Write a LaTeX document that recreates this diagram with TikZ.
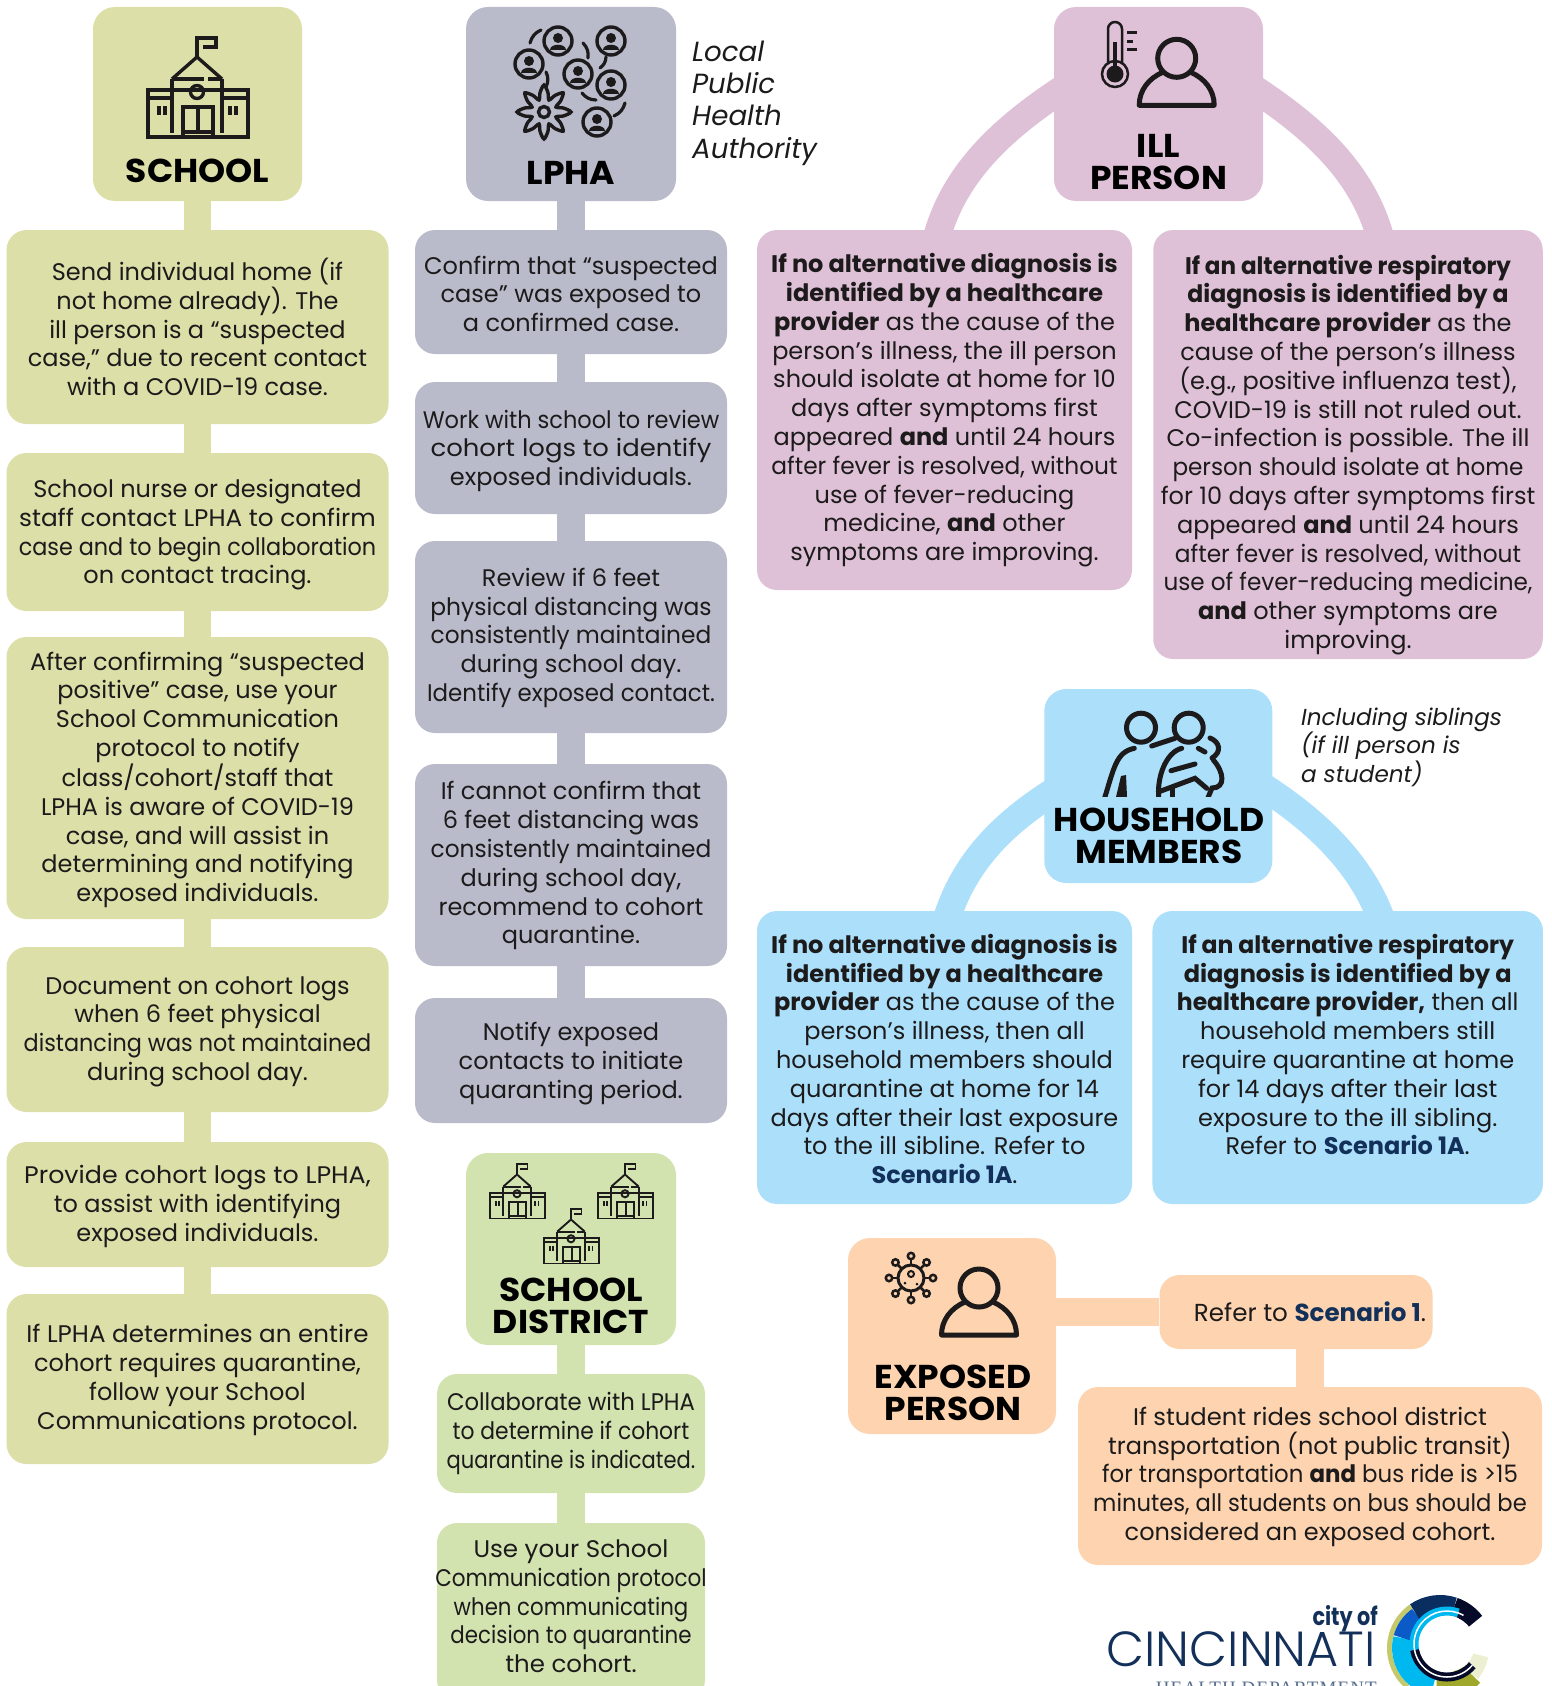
\documentclass[tikz,border=0pt]{standalone}
\usepackage{fontspec}
\usepackage{graphicx}
\setmainfont{Poppins}
\newfontfamily\logofont{Poppins Light}
\newfontfamily\deptfont[LetterSpace=6]{Liberation Serif}
\newfontfamily\headfont[FakeStretch=1.045]{Poppins}
\usetikzlibrary{calc}

\definecolor{schoolc}{HTML}{DDDFA8}
\definecolor{lphac}{HTML}{B9BBCA}
\definecolor{illc}{HTML}{DEC1D7}
\definecolor{housec}{HTML}{ABDFFA}
\definecolor{expoc}{HTML}{FDD4AF}
\definecolor{distc}{HTML}{D2E3B0}
\definecolor{navyc}{HTML}{12305A}
\definecolor{inkc}{HTML}{1C1A1B}
\definecolor{ringa}{HTML}{050A28}
\definecolor{ringb}{HTML}{0A2E60}
\definecolor{ringc}{HTML}{0A5AC8}
\definecolor{ringd}{HTML}{00B8F0}
\definecolor{ringe}{HTML}{9FA82A}
\definecolor{ringf}{HTML}{C4C96C}
\definecolor{ringg}{HTML}{EDEFD2}

\newcommand{\scen}[1]{\textcolor{navyc}{\textbf{#1}}}
\newcommand{\sx}[2]{\scalebox{#1}[1]{#2}}

\tikzset{
	flowbox/.style={rounded corners=20pt, align=center, inner sep=0pt, text=inkc, font=\fontsize{24}{28.8}\selectfont},
	headbox/.style={rounded corners=22pt, inner sep=0pt},
	headtxt/.style={align=center, inner sep=0pt, text=black, font=\headfont\fontsize{33}{32.5}\selectfont\bfseries},
	sidetxt/.style={align=left, anchor=west, inner sep=0pt, text=inkc},
	link/.style={line width=27.5pt},
	schoolpic/.pic={
		\draw (0,-30) -- (0,-49) -- (19,-49) -- (19,-40) -- (6,-40);
		\draw (-25,-8) -- (0,-30) -- (25,-8);
		\draw (-25,-8) -- (7,-8) (11,-8) -- (25,-8);
		\draw (-25,-8) -- (-25,46) (25,-8) -- (25,46);
		\draw (-49,3) rectangle (51,50);
		\draw (-49,11) -- (-25,11) (25,11) -- (51,11);
		\draw (-14,20) rectangle (16,50);
		\draw (1,20) -- (1,45) (-14,45) -- (16,45);
		\draw (0,5) circle (6.5);
		\draw (-38,19) -- (-38,28) (-32,19) -- (-32,28) (33,19) -- (33,28) (39,19) -- (39,28);
	},
	personpic/.pic={
		\draw (0,0) circle (19);
		\draw[line join=round] (-14,14) .. controls (-28,20) and (-37.5,32) .. (-37.5,47) -- (37.5,47) .. controls (37.5,32) and (28,20) .. (14,14);
	},
	facepic/.pic={
		\draw (0,0) circle (14);
		\fill[inkc] (0,-3) circle (5);
		\fill[inkc] (-8,9) .. controls (-8,2) and (8,2) .. (8,9) -- cycle;
	},
}

\begin{document}
\begin{tikzpicture}[x=1pt,y=-1pt]
	\useasboundingbox (0,0) rectangle (1552,1686);

	%%%%% SCHOOL %%%%%
	\node[headbox, fill=schoolc, minimum width=209, minimum height=194] (school) at (197.5,104) {};
	\node[flowbox, fill=schoolc, minimum width=382, minimum height=194] (s1) at (197.5,327) {Send individual home (if\\not home already). The\\ill person is a “suspected\\case,” due to recent contact\\with a COVID-19 case.};
	\node[flowbox, fill=schoolc, minimum width=382, minimum height=158] (s2) at (197.5,532) {\rule{0pt}{24pt}School nurse or designated\\\sx{1.03}{staff contact LPHA to confirm}\\\sx{.93}{case and to begin collaboration}\\on contact tracing.};
	\node[flowbox, fill=schoolc, minimum width=382, minimum height=282] (s3) at (197.5,778) {\rule{0pt}{22pt}After confirming “suspected\\positive” case, use your\\School Communication\\protocol to notify\\class/cohort/staff that\\LPHA is aware of COVID-19\\case, and will assist in\\determining and notifying\\exposed individuals.};
	\node[flowbox, fill=schoolc, minimum width=382, minimum height=165] (s4) at (197.5,1029.5) {\rule{0pt}{22pt}Document on cohort logs\\when 6 feet physical\\\sx{.93}{distancing was not maintained}\\during school day.};
	\node[flowbox, fill=schoolc, minimum width=382, minimum height=125] (s5) at (197.5,1204.5) {\rule{0pt}{22pt}\sx{1.055}{Provide cohort logs to LPHA,}\\to assist with identifying\\exposed individuals.};
	\node[flowbox, fill=schoolc, minimum width=382, minimum height=170] (s6) at (197.5,1379) {\rule{0pt}{20pt}\sx{1.025}{If LPHA determines an entire}\\cohort requires quarantine,\\follow your School\\Communications protocol.};
	\foreach \a/\b in {school/s1,s1/s2,s2/s3,s3/s4,s4/s5,s5/s6}
		\draw[link, schoolc] (\a.south) -- (\b.north);

	%%%%% LPHA %%%%%
	\node[headbox, fill=lphac, minimum width=210, minimum height=194] (lpha) at (571,104) {};
	\node[flowbox, fill=lphac, minimum width=312, minimum height=124] (l1) at (571,292) {\rule{0pt}{22pt}Confirm that “suspected\\case” was exposed to\\a confirmed case.};
	\node[flowbox, fill=lphac, minimum width=312, minimum height=132] (l2) at (571,448) {\rule{0pt}{24pt}\sx{.937}{Work with school to review}\\\sx{1.08}{cohort logs to identify}\\exposed individuals.};
	\node[flowbox, fill=lphac, minimum width=312, minimum height=192] (l3) at (571,637) {\rule{0pt}{20pt}Review if 6 feet\\\sx{.975}{physical distancing was}\\\sx{.97}{consistently maintained}\\during school day.\\\sx{.955}{Identify exposed contact.}};
	\node[flowbox, fill=lphac, minimum width=312, minimum height=202] (l4) at (571,865) {\rule{0pt}{20pt}If cannot confirm that\\6 feet distancing was\\\sx{.97}{consistently maintained}\\during school day,\\recommend to cohort\\quarantine.};
	\node[flowbox, fill=lphac, minimum width=312, minimum height=125] (l5) at (571,1060.5) {\rule{0pt}{24pt}Notify exposed\\contacts to initiate\\quaranting period.};
	\foreach \a/\b in {lpha/l1,l1/l2,l2/l3,l3/l4,l4/l5}
		\draw[link, lphac] (\a.south) -- (\b.north);
	\node[sidetxt, font=\fontsize{27.7}{32.3}\selectfont\itshape] (lphanote) at (692,103) {Local\\Public\\Health\\Authority};

	%%%%% SCHOOL DISTRICT %%%%%
	\node[headbox, fill=distc, minimum width=210, minimum height=192] (dist) at (571,1249) {};
	\node[flowbox, fill=distc, minimum width=268, minimum height=119] (d1) at (571,1433.5) {\sx{.947}{Collaborate with LPHA}\\\sx{.91}{to determine if cohort}\\\sx{.877}{quarantine is indicated.}};
	\node[flowbox, fill=distc, minimum width=268, minimum height=177] (d2) at (571,1611.5) {\sx{1.025}{Use your School}\\\makebox[240pt]{\sx{.896}{Communication protocol}}\\\sx{.886}{when communicating}\\\sx{.89}{decision to quarantine}\\\sx{1.02}{the cohort.}\rule[-10.5pt]{0pt}{0pt}};
	\foreach \a/\b in {dist/d1,d1/d2}
		\draw[link, distc] (\a.south) -- (\b.north);

	%%%%% ILL PERSON %%%%%
	\node[headbox, fill=illc, minimum width=209, minimum height=194] (ill) at (1158.5,104) {};
	\node[flowbox, fill=illc, minimum width=375, minimum height=360] (illa) at (944.5,410) {\rule{0pt}{20pt}\textbf{If no alternative diagnosis is}\\\textbf{identified by a healthcare}\\\textbf{provider} as the cause of the\\person’s illness, the ill person\\should isolate at home for 10\\days after symptoms first\\appeared \textbf{and} until 24 hours\\\sx{.97}{after fever is resolved, without}\\use of fever-reducing\\medicine, \textbf{and} other\\symptoms are improving.};
	\node[flowbox, fill=illc, minimum width=389.5, minimum height=429] (illb) at (1348,444.5) {\rule{0pt}{40pt}\sx{.96}{\textbf{If an alternative respiratory}}\\\sx{.98}{\textbf{diagnosis is identified by a}}\\\textbf{healthcare provider} as the\\cause of the person’s illness\\(e.g., positive influenza test),\\COVID-19 is still not ruled out.\\Co-infection is possible. The ill\\\sx{.963}{person should isolate at home}\\for 10 days after symptoms first\\appeared \textbf{and} until 24 hours\\\sx{.97}{after fever is resolved, without}\\\sx{.963}{use of fever-reducing medicine,}\\\textbf{and} other symptoms are\\improving.};
	\coordinate (illl) at (1064,88);
	\coordinate (illr) at (1253,88);
	\coordinate (illfl) at (936,240);
	\coordinate (illfr) at (1381,240);
	\draw[link, illc] (illl) .. controls (1000,130) and (953,175) .. (illfl);
	\draw[link, illc] (illr) .. controls (1317,130) and (1364,175) .. (illfr);

	%%%%% HOUSEHOLD MEMBERS %%%%%
	\node[headbox, fill=housec, minimum width=228, minimum height=194] (house) at (1158.3,786) {};
	\node[flowbox, fill=housec, minimum width=375, minimum height=293] (housea) at (944.5,1057.5) {\rule{0pt}{22pt}\textbf{If no alternative diagnosis is}\\\textbf{identified by a healthcare}\\\textbf{provider} as the cause of the\\person’s illness, then all\\household members should\\quarantine at home for 14\\days after their last exposure\\to the ill sibline. Refer to\\\scen{Scenario 1A}.};
	\node[flowbox, fill=housec, minimum width=390.5, minimum height=293] (houseb) at (1347.7,1057.5) {\rule{0pt}{22pt}\sx{.98}{\textbf{If an alternative respiratory}}\\\textbf{diagnosis is identified by a}\\\sx{.98}{\textbf{healthcare provider,} then all}\\household members still\\require quarantine at home\\for 14 days after their last\\exposure to the ill sibling.\\Refer to \scen{Scenario 1A}.\\\ };
	\coordinate (housel) at (1056,790);
	\coordinate (houser) at (1262,786);
	\coordinate (housefl) at (946,921);
	\coordinate (housefr) at (1382,921);
	\draw[link, housec] (housel) .. controls (1000,825) and (963,865) .. (housefl);
	\draw[link, housec] (houser) .. controls (1318,822) and (1362,865) .. (housefr);
	\node[sidetxt, font=\fontsize{23.1}{28.6}\selectfont\itshape] (housenote) at (1301,747) {Including siblings\\(if ill person is\\a student)};

	%%%%% EXPOSED PERSON %%%%%
	\node[headbox, fill=expoc, minimum width=208, minimum height=196] (expo) at (952,1336) {};
	\node[flowbox, fill=expoc, minimum width=273, minimum height=74] (e1) at (1296,1312) {\hspace*{28pt}\fontsize{24.6}{28.8}\selectfont Refer to \scen{Scenario 1}.};
	\node[flowbox, fill=expoc, minimum width=464, minimum height=178] (e2) at (1310,1476) {\rule{0pt}{20pt}\sx{1.01}{If student rides school district}\\transportation (not public transit)\\\sx{.953}{for transportation \textbf{and} bus ride is >15}\\\sx{.943}{minutes, all students on bus should be}\\considered an exposed cohort.};
	\draw[link, expoc] (expo.east |- e1.west) -- (e1.west);
	\draw[link, expoc] (e1.south -| e2.north) -- (e2.north);

	%%%%% HEADER TEXT %%%%%
	\node[headtxt] (schooltxt) at (197.5,171) {SCHOOL};
	\node[headtxt] (lphatxt) at (571,173) {LPHA};
	\node[headtxt] (disttxt) at (571,1306) {SCHOOL\\DISTRICT};
	\node[headtxt] (illtxt) at (1158.5,162) {ILL\\PERSON};
	\node[headtxt] (housetxt) at (1159,836) {HOUSEHOLD\\MEMBERS};
	\node[headtxt] (expotxt) at (953,1393) {EXPOSED\\PERSON};

	%%%%% ICONS %%%%%
	\begin{scope}[draw=inkc]
		\pic[line width=3.4pt] at (197,87) {schoolpic};
		\pic[line width=1.9pt, scale=.55] at (517,1191) {schoolpic};
		\pic[line width=1.9pt, scale=.55] at (625,1191) {schoolpic};
		\pic[line width=1.9pt, scale=.55] at (571,1236) {schoolpic};

		\pic[line width=5pt] at (1176.7,58.3) {personpic};
		\pic[line width=5pt] at (979,1288) {personpic};

		% crowd
		\foreach \px/\py in {558/41,611/41,529/64,578/74,611/85,597/122}
			\pic[line width=3.4pt] at (\px,\py) {facepic};
		\draw[line width=3.2pt, line cap=round] (530,43) to[bend left=25] (541,30) (583,43) to[bend left=25] (588,58) (606,57) to[bend left=25] (600,68) (546,72) to[bend left=25] (546,87) (582,93) to[bend right=25] (596,100) (625,103) to[bend left=25] (614,116);
		\draw[line width=3.4pt] plot[smooth cycle, samples=32, domain=0:348.75, variable=\t] ({544+(20+7*cos(8*\t))*cos(\t)},{112+(20+7*cos(8*\t))*sin(\t)});
		\draw[line width=3.4pt] (544,112) circle (5.5);

		% thermometer
		\draw[line width=2.5pt] (1108,64) -- (1108,29) arc (180:360:7) -- (1122,64);
		\draw[line width=2.5pt] (1115,74) circle (13);
		\fill[inkc] (1115,74) circle (8.5);
		\fill[inkc] (1113,42) rectangle (1117,72);
		\draw[line width=3pt] (1127,33) -- (1137,33) (1127,42) -- (1133,42) (1127,50) -- (1137,50);

		% virus
		\draw[line width=3pt] (911,1278) circle (13);
		\foreach \ang in {0,45,...,315} {
			\draw[line width=2.5pt] (911,1278) ++(\ang:13) -- ++(\ang:6);
			\draw[line width=2.5pt] (911,1278) ++(\ang:22) circle (3.2);
		}
		\draw[line width=2pt] (911,1274) circle (3);
		\fill[inkc] (905,1283) circle (1.5) (917,1284) circle (1.5);

		% household
		\begin{scope}[line width=5pt, line cap=round]
			\clip (1090,700) rectangle (1240,796.5);
			\draw (1141,727.7) circle (14.5);
			\draw (1188.7,727.7) circle (14.5);
			\draw (1134.3,748.3) .. controls (1116,752) and (1114,768) .. (1104,800);
			\draw (1151.7,746) -- (1175,738.3);
			\fill[inkc] (1116,797) -- (1121,776) -- (1126,775) -- (1127,797) -- cycle;
			\draw (1181.7,748.3) .. controls (1166,752) and (1156,778) .. (1159,800);
			\draw (1198.3,748.3) -- (1205,752);
			\draw (1210,738) .. controls (1220,742) and (1222,752) .. (1212,758);
			\draw (1213.3,760) .. controls (1224,772) and (1226,788) .. (1212,788) -- (1207,800);
			\draw (1171,770.7) -- (1195,764);
			\draw (1159,791.7) -- (1195,778.3) -- (1206.7,788.3);
			\draw (1172,788) -- (1172,800);
		\end{scope}
	\end{scope}

	%%%%% LOGO %%%%%
	\node[anchor=east, inner sep=0pt, text=navyc, font=\logofont\fontsize{49.3}{49.3}\selectfont] (cinci) at (1376,1649) {CINCINNATI};
	\node[anchor=east, inner sep=0pt, text=navyc, font=\fontsize{25}{25}\selectfont\bfseries] (cityof) at (1378,1619) {\sx{.83}{city of}};
	\node[anchor=north east, inner sep=0pt, text=navyc!70, font=\deptfont\fontsize{19}{19}\selectfont] (dept) at (1377,1682) {HEALTH DEPARTMENT};
	\coordinate (ring) at (1440,1648);
	\coordinate (hole) at (1447,1644);
	\draw[line width=5pt, color=ringf] ([shift={(130:50.5)}]ring) arc (130:235:50.5);
	\foreach \from/\to/\col/\rad/\wid in {100/195/ringd/38/20,195/235/ringc/38/20,235/289/ringb/44/18,289/323/ringa/44/18,10/40/ringg/38/22,40/95/ringe/40/26}
		\draw[line width=\wid pt, color=\col] ([shift={(\from:\rad)}]ring) arc (\from:\to:\rad);
	\draw[line width=9pt, color=ringa] ([shift={(40:33)}]hole) arc (40:170:33);
	\draw[line width=9pt, color=ringd] ([shift={(170:33)}]hole) arc (170:290:33);
	\draw[line width=1.5pt, white] ([shift={(40:33)}]hole) arc (40:300:33);
	\fill[white] (hole) circle (28);
\end{tikzpicture}
\end{document}
